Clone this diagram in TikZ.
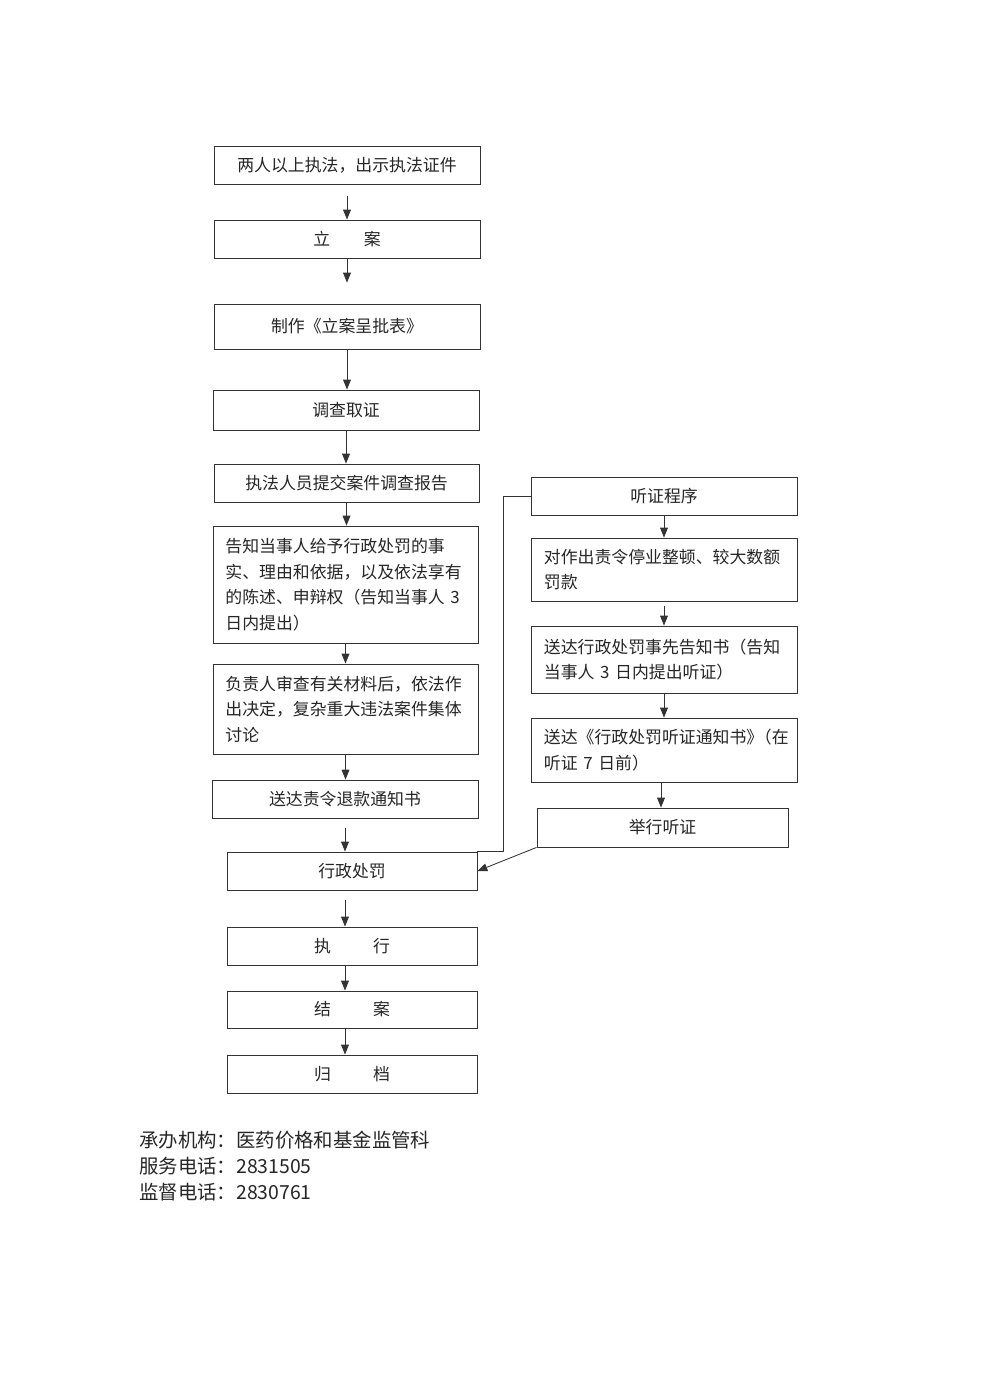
\documentclass[tikz,border=0pt]{standalone}
\usepackage{fontspec}
\setmainfont{Noto Sans CJK SC}
\usetikzlibrary{arrows.meta}

\begin{document}
\begin{tikzpicture}[
        x=0.025cm, y=-0.025cm,
        box/.style={draw=black!80, line width=0.6pt, rectangle, align=center, minimum width=6.65cm, minimum height=0.95cm, inner sep=0pt, font=\fontsize{12}{18.2}\selectfont, text=black!85},
        textbox/.style={box, align=left, text width=6.0cm},
        arrow/.style={-{Triangle[width=5.5pt,length=7pt]}, draw=black!80, line width=0.6pt}
    ]

    % Page
    \fill[white] (0,0) rectangle (980,1385);
    \useasboundingbox (0,0) rectangle (980,1385);

    % Main column
    \node[box] (open) at (347,165.5) {两人以上执法，出示执法证件};
    \node[box] (register) at (347,239) {立\hspace{2em}案};
    \node[box, minimum height=1.125cm] (form) at (347,326.5) {制作《立案呈批表》};
    \node[box, minimum height=1.0cm] (invest) at (346,410) {调查取证};
    \node[box, minimum width=6.625cm] (report) at (346.5,483) {执法人员提交案件调查报告};
    \node[textbox, minimum width=6.625cm, minimum height=2.925cm] (inform) at (345.5,584.5)
        {告知当事人给予行政处罚的事\\实、理由和依据，以及依法享有\\的陈述、申辩权（告知当事人 3\\日内提出）};
    \node[textbox, minimum width=6.625cm, minimum height=2.25cm] (decide) at (345.5,709)
        {负责人审查有关材料后，依法作\\出决定，复杂重大违法案件集体\\讨论};
    \node[box] (refund) at (345,799) {送达责令退款通知书};
    \node[box, minimum width=6.25cm] (penalty) at (352,871) {行政处罚};
    \node[box, minimum width=6.25cm] (execute) at (352,946) {执\hspace{2.5em}行};
    \node[box, minimum width=6.25cm, minimum height=0.925cm] (close) at (352,1009.5) {结\hspace{2.5em}案};
    \node[box, minimum width=6.25cm] (archive) at (352,1074) {归\hspace{2.5em}档};

    % Hearing column
    \node[box] (hearing) at (664,496) {听证程序};
    \node[textbox, minimum height=1.575cm] (suspend) at (664,569.5)
        {对作出责令停业整顿、较大数额\\罚款};
    \node[textbox, minimum height=1.675cm] (advance) at (664,659.5)
        {送达行政处罚事先告知书（告知\\当事人 3 日内提出听证）};
    \node[textbox, minimum height=1.6cm] (summon) at (664,750)
        {送达《行政处罚听证通知书》\kern-0.5em（在\\听证 7 日前）};
    \node[box, minimum width=6.275cm, minimum height=0.975cm] (hold) at (662.5,827.5) {举行听证};

    % Edges of main column
    \draw[arrow, shorten <=0.275cm] (open.south) -- (open.south |- register.north);
    \draw[arrow, shorten >=0.525cm] (register.south) -- (register.south |- form.north);
    \draw[arrow] (form.south) -- (form.south |- invest.north);
    \draw[arrow] (invest.south) -- (invest.south |- report.north);
    \draw[arrow] (report.south) -- (report.south |- inform.north);
    \draw[arrow] (inform.south) -- (inform.south |- decide.north);
    \draw[arrow] (decide.south) -- (decide.south |- refund.north);
    \draw[arrow, shorten <=0.25cm] (refund.south) -- (refund.south |- penalty.north);
    \draw[arrow, shorten <=0.25cm] (refund.south |- penalty.south) -- (refund.south |- execute.north);
    \draw[arrow] (refund.south |- execute.south) -- (refund.south |- close.north);
    \draw[arrow] (refund.south |- close.south) -- (refund.south |- archive.north);

    % Edges of hearing column
    \draw[arrow] (hearing.south) -- (hearing.south |- suspend.north);
    \draw[arrow, shorten <=0.12cm] (suspend.south) -- (suspend.south |- advance.north);
    \draw[arrow] (advance.south) -- (advance.south |- summon.north);
    \draw[arrow] ([xshift=-0.075cm]summon.south) -- ([xshift=-0.075cm]summon.south |- hold.north);
    \draw[draw=black!80, line width=0.6pt] (hearing.west) -- ++(-27,0) |- (penalty.north east);
    \draw[arrow] (hold.south west) -- (penalty.east);

    % Contact
    \node[anchor=west, align=left, inner sep=0pt, font=\fontsize{13.8}{18.4}\selectfont, text=black!85] (contact) at (139,1166)
        {承办机构：医药价格和基金监管科\\服务电话：2831505\\监督电话：2830761};

\end{tikzpicture}
\end{document}
